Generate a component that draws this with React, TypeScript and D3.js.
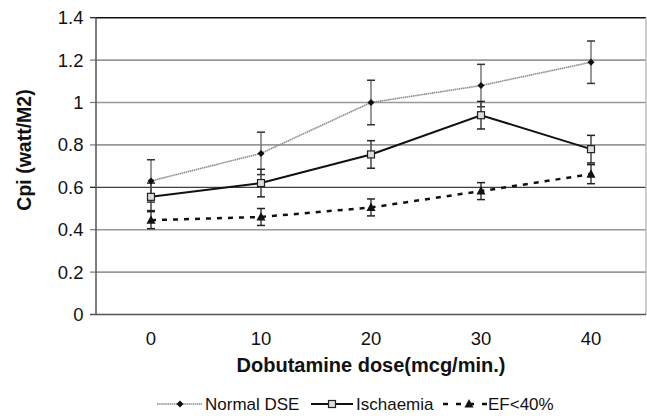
import React from "react";
import * as d3 from "d3";

const doses = ["0", "10", "20", "30", "40"];
const normalDSE = [0.63, 0.76, 1.0, 1.08, 1.19];
const normalErr = [0.1, 0.1, 0.105, 0.1, 0.1];
const ischaemia = [0.555, 0.62, 0.755, 0.94, 0.78];
const ischaemiaErr = [0.065, 0.065, 0.065, 0.065, 0.065];
const ef40 = [0.445, 0.46, 0.505, 0.582, 0.662];
const ef40Err = [0.04, 0.04, 0.04, 0.04, 0.045];
const yTicks = [0, 0.2, 0.4, 0.6, 0.8, 1, 1.2, 1.4];

const W = 647, H = 416;
const left = 96, right = 646, top = 17.7, bottom = 314.5;

export default function App() {
  const x = d3.scaleBand<string>().domain(doses).range([left, right]);
  const y = d3.scaleLinear().domain([0, 1.4]).range([bottom, top]);
  const cx = (d: string) => (x(d) as number) + x.bandwidth() / 2;
  const line = d3.line<number>().x((_, i) => cx(doses[i])).y((v) => y(v));
  const font = "Liberation Sans, Arial, sans-serif";

  const errBars = (vals: number[], errs: number[], color: string, capColor: string) =>
    vals.map((v, i) => {
      const X = cx(doses[i]);
      return (
        <g key={i}>
          <line x1={X} x2={X} y1={y(v - errs[i])} y2={y(v + errs[i])} stroke={color} strokeWidth={1.5} />
          <line x1={X - 4} x2={X + 4} y1={y(v - errs[i])} y2={y(v - errs[i])} stroke={capColor} strokeWidth={1.5} />
          <line x1={X - 4} x2={X + 4} y1={y(v + errs[i])} y2={y(v + errs[i])} stroke={capColor} strokeWidth={1.5} />
        </g>
      );
    });

  const diamond = (X: number, Y: number, k: any) => (
    <path key={k} d={`M${X},${Y - 3.5}L${X + 3.5},${Y}L${X},${Y + 3.5}L${X - 3.5},${Y}Z`} fill="#111" />
  );
  const square = (X: number, Y: number, k: any) => (
    <rect key={k} x={X - 3.5} y={Y - 3.5} width={7} height={7} fill="#ddd" stroke="#222" strokeWidth={1.2} />
  );
  const tri = (X: number, Y: number, k: any) => (
    <path key={k} d={`M${X},${Y - 5}L${X + 4.5},${Y + 3.5}L${X - 4.5},${Y + 3.5}Z`} fill="#111" />
  );

  return (
    <svg width={W} height={H} style={{ position: "absolute", left: 0, top: 0 }}>
      <rect width={W} height={H} fill="#fff" />
      {/* gridlines */}
      {yTicks.map((t) => {
        const dark = t === 1.4 || t === 0.6;
        if (t === 0) return null;
        return (
          <g key={t}>
            <line x1={left} x2={right} y1={y(t)} y2={y(t)} stroke={dark ? "#111" : "#999"} strokeWidth={dark ? (t === 1.4 ? 1.6 : 1) : 1.6} />
            <line x1={left - 6} x2={left} y1={y(t)} y2={y(t)} stroke={dark ? "#111" : "#777"} strokeWidth={1.2} />
          </g>
        );
      })}
      {/* right border */}
      <line x1={right} x2={right} y1={top} y2={bottom} stroke="#bbb" strokeWidth={1.5} />
      {/* axes */}
      <line x1={left} x2={left} y1={top} y2={bottom} stroke="#555" strokeWidth={1.5} />
      <line x1={left - 6} x2={right} y1={bottom} y2={bottom} stroke="#555" strokeWidth={1.6} />
      {yTicks.map((t) => (
        <text key={t} x={83.5} y={y(t) + 6.5} textAnchor="end" fontFamily={font} fontSize={18.5} fill="#111">
          {String(t)}
        </text>
      ))}
      {doses.map((d) => (
        <text key={d} x={cx(d)} y={345} textAnchor="middle" fontFamily={font} fontSize={18.5} fill="#111">
          {d}
        </text>
      ))}
      <text x={371} y={372} textAnchor="middle" fontFamily={font} fontSize={20} fontWeight="bold" fill="#111">
        Dobutamine dose(mcg/min.)
      </text>
      <text transform={`translate(31,150) rotate(-90)`} textAnchor="middle" fontFamily={font} fontSize={19.5} fontWeight="bold" fill="#111">
        Cpi (watt/M2)
      </text>

      {/* error bars */}
      {errBars(normalDSE, normalErr, "#777", "#333")}
      {errBars(ischaemia, ischaemiaErr, "#444", "#222")}
      {errBars(ef40, ef40Err, "#444", "#222")}

      {/* lines */}
      <path d={line(normalDSE) as string} fill="none" stroke="#8a8a8a" strokeWidth={1.6} strokeDasharray="1.5,0.6" />
      <path d={line(ischaemia) as string} fill="none" stroke="#111" strokeWidth={2} />
      <path d={line(ef40) as string} fill="none" stroke="#111" strokeWidth={2.5} strokeDasharray="5,6" />

      {normalDSE.map((v, i) => diamond(cx(doses[i]), y(v), i))}
      {ischaemia.map((v, i) => square(cx(doses[i]), y(v), i))}
      {ef40.map((v, i) => tri(cx(doses[i]), y(v), i))}

      {/* legend */}
      <g>
        <line x1={157} x2={202} y1={404} y2={404} stroke="#8a8a8a" strokeWidth={1.5} strokeDasharray="1.5,0.6" />
        {diamond(180, 404, "ld")}
        <text x={205} y={410} fontFamily={font} fontSize={17} fill="#111">Normal DSE</text>
        <line x1={311} x2={353} y1={404} y2={404} stroke="#111" strokeWidth={2} />
        {square(332, 404, "ls")}
        <text x={356} y={410} fontFamily={font} fontSize={17} fill="#111">Ischaemia</text>
        <line x1={443} x2={487} y1={404} y2={404} stroke="#111" strokeWidth={2.5} strokeDasharray="5,8" />
        {tri(469, 404, "lt")}
        <text x={488} y={410} fontFamily={font} fontSize={17} fill="#111">EF&lt;40%</text>
      </g>
    </svg>
  );
}
